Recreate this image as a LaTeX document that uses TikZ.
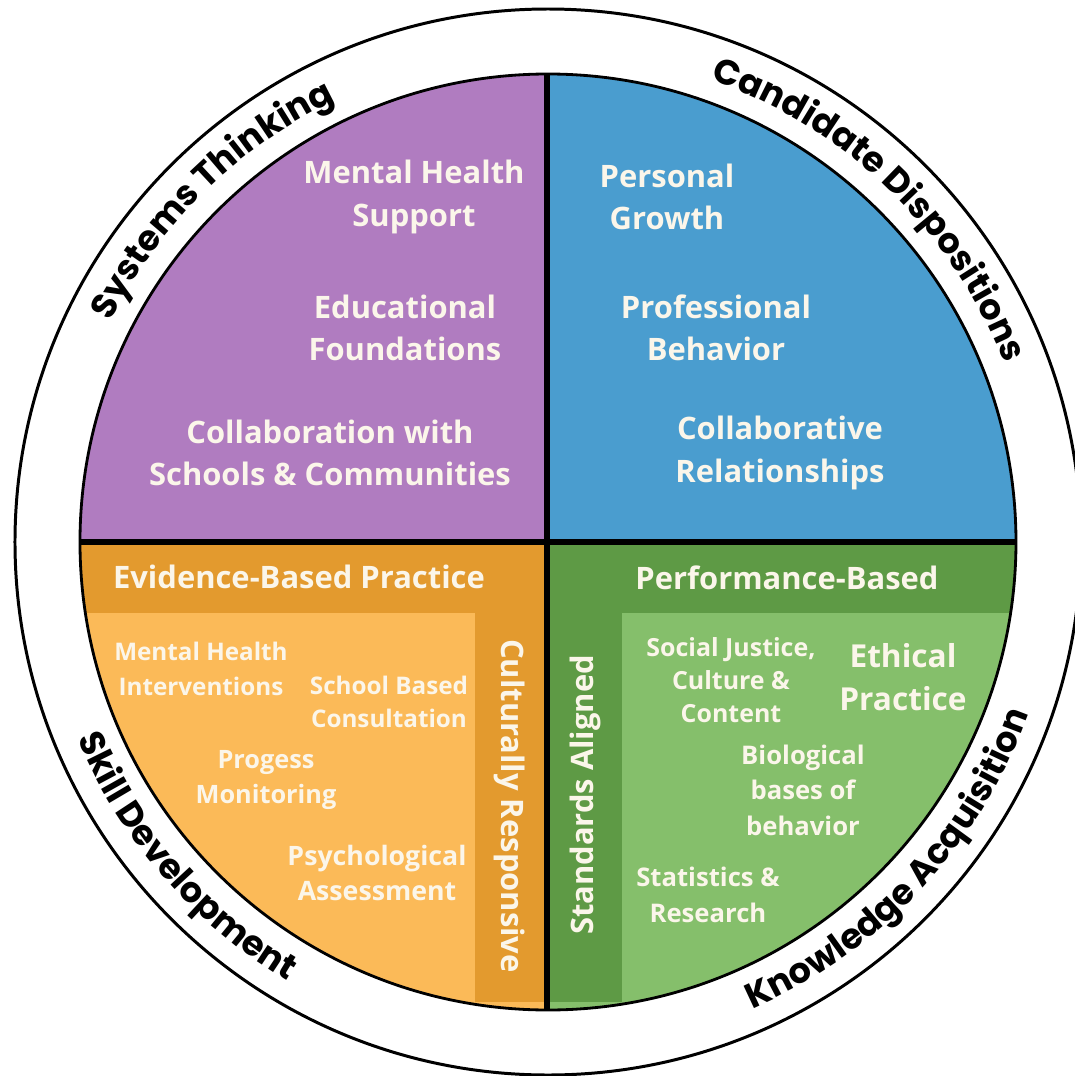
\documentclass[tikz,border=0pt]{standalone}
\usepackage{fontspec}
\setmainfont{Open Sans}
\newfontfamily\ringfont{Poppins}
\usetikzlibrary{decorations.text}

\definecolor{purplequad}{HTML}{B07CC0}
\definecolor{bluequad}{HTML}{4A9DCF}
\definecolor{orangedark}{HTML}{E39A2E}
\definecolor{orangelight}{HTML}{FBBA58}
\definecolor{greendark}{HTML}{5E9A45}
\definecolor{greenlight}{HTML}{85BF6B}
\definecolor{labelwhite}{HTML}{FBF6EA}

\newcommand\ringstyle{\ringfont\bfseries\fontsize{10}{12}\selectfont}

\tikzset{
  biglabel/.style={text=labelwhite, align=center, inner sep=0pt, font=\bfseries\fontsize{8.8}{12}\selectfont},
  smalllabel/.style={text=labelwhite, align=center, inner sep=0pt, font=\bfseries\fontsize{7.2}{10}\selectfont},
  ringtext/.style={decorate, decoration={text along path, text align=center, text={|\ringstyle|#1}}}
}

\begin{document}
\begin{tikzpicture}
    \useasboundingbox (-5.48,-5.34) rectangle (5.27,5.42);

    % Outer ring
    \draw[line width=0.85pt] (0,0) circle (5.33);

    % Four quadrants of the pie
    \fill[purplequad] (0,0) -- (180:4.68) arc[start angle=180, end angle=90, radius=4.68] -- cycle;
    \fill[bluequad] (0,0) -- (90:4.68) arc[start angle=90, end angle=0, radius=4.68] -- cycle;
    \fill[orangedark] (0,0) -- (180:4.68) arc[start angle=180, end angle=270, radius=4.68] -- cycle;
    \fill[greendark] (0,0) -- (270:4.68) arc[start angle=270, end angle=360, radius=4.68] -- cycle;

    % Lighter inner panels of the lower quadrants
    \begin{scope}
        \clip (0,0) circle (4.68);
        \fill[orangelight] (-5,-0.71) rectangle (-0.73,-5);
        \fill[orangelight] (-0.73,-4.60) rectangle (0,-5);
        \fill[greenlight] (0.74,-0.71) rectangle (5,-5);
        \fill[greenlight] (0,-4.60) rectangle (0.74,-5);
    \end{scope}

    % Pie outline and dividers
    \draw[line width=0.8pt] (0,0) circle (4.68);
    \draw[line width=1.7pt] (-0.01,4.68) -- (-0.01,-4.68);
    \draw[line width=1.7pt] (-4.68,0) -- (4.68,0);

    % Labels round the ring
    \path[ringtext={Systems Thinking}] (175:4.90) arc[start angle=175, end angle=94, radius=4.90];
    \path[ringtext={Candidate Dispositions}] (90:4.90) arc[start angle=90, end angle=2, radius=4.90];
    \path[ringtext={Skill Development}] (180:5.10) arc[start angle=180, end angle=262, radius=5.10];
    \path[ringtext={Knowledge Acquisition}] (275:5.10) arc[start angle=275, end angle=359, radius=5.10];

    % Purple quadrant
    \node[biglabel] (mhs) at (-1.34,3.45) {Mental Health\\Support};
    \node[biglabel] (edf) at (-1.43,2.14) {Educational\\Foundations};
    \node[biglabel] (csc) at (-2.18,0.89) {Collaboration with\\Schools \& Communities};

    % Blue quadrant
    \node[biglabel] (pgr) at (1.19,3.45) {Personal\\Growth};
    \node[biglabel] (pbh) at (1.68,2.14) {Professional\\Behavior};
    \node[biglabel] (crl) at (2.32,0.89) {Collaborative\\Relationships};

    % Orange quadrant
    \node[biglabel] (ebp) at (-2.49,-0.35) {Evidence-Based Practice};
    \node[biglabel, rotate=-90] (cur) at (-0.38,-2.64) {Culturally Responsive};
    \node[smalllabel, font=\bfseries\fontsize{6.9}{10}\selectfont] (mhi) at (-3.47,-1.27) {Mental Health\\Interventions};
    \node[smalllabel, font=\bfseries\fontsize{6.9}{9.6}\selectfont] (sbc) at (-1.59,-1.60) {School Based\\Consultation};
    \node[smalllabel] (prm) at (-2.82,-2.38) {Progess\\Monitoring};
    \node[smalllabel, font=\bfseries\fontsize{7.6}{10}\selectfont] (psa) at (-1.71,-3.31) {Psychological\\Assessment};

    % Green quadrant
    \node[biglabel] (pfb) at (2.39,-0.36) {Performance-Based};
    \node[biglabel, rotate=90] (sta) at (0.37,-2.53) {Standards Aligned};
    \node[smalllabel, font=\bfseries\fontsize{7.1}{9.4}\selectfont] (sjc) at (1.83,-1.38) {Social Justice,\\Culture \&\\Content};
    \node[biglabel, font=\bfseries\fontsize{9}{12.2}\selectfont] (etp) at (3.55,-1.35) {Ethical\\Practice};
    \node[smalllabel, font=\bfseries\fontsize{7.3}{10.1}\selectfont] (bio) at (2.55,-2.48) {Biological\\bases of\\behavior};
    \node[smalllabel, font=\bfseries\fontsize{7.3}{10.2}\selectfont] (str) at (1.60,-3.53) {Statistics \&\\Research};
\end{tikzpicture}
\end{document}
